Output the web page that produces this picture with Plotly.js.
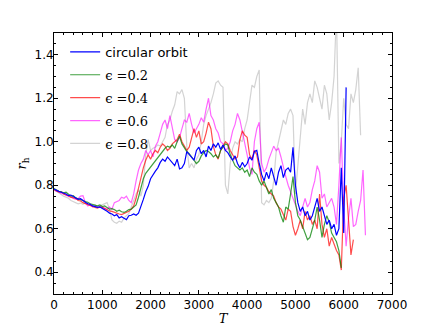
<!DOCTYPE html>
<html>
<head>
<meta charset="utf-8">
<script src="https://cdn.plot.ly/plotly-3.0.1.min.js"></script>
<style>
  html, body { margin: 0; padding: 0; background: #fff; }
  #chart { width: 436px; height: 327px; }
</style>
</head>
<body>
<div id="chart"></div>
<script>
// sample times (step 50)
var T = [0,50,100,150,200,250,300,350,400,450,500,550,600,650,700,750,800,850,900,950,
  1000,1050,1100,1150,1200,1250,1300,1350,1400,1450,1500,1550,1600,1650,1700,1750,1800,1850,1900,1950,
  2000,2050,2100,2150,2200,2250,2300,2350,2400,2450,2500,2550,2600,2650,2700,2750,2800,2850,2900,2950,
  3000,3050,3100,3150,3200,3250,3300,3350,3400,3450,3500,3550,3600,3650,3700,3750,3800,3850,3900,3950,
  4000,4050,4100,4150,4200,4250,4300,4350,4400,4450,4500,4550,4600,4650,4700,4750,4800,4850,4900,4950,
  5000,5050,5100,5150,5200,5250,5300,5350,5400,5450,5500,5550,5600,5650,5700,5750,5800,5850,5900,5950,
  6000,6050,6100,6150,6200,6250,6300,6350,6400,6450];

var circular = [0.782,0.775,0.772,0.768,0.765,0.760,0.752,0.755,0.748,0.740,0.735,0.738,0.728,0.722,0.715,0.712,0.705,0.702,0.698,0.700,
  0.694,0.688,0.680,0.672,0.668,0.660,0.665,0.650,0.655,0.648,0.642,0.660,0.662,0.668,0.662,0.672,0.700,0.735,0.770,0.795,
  0.830,0.850,0.865,0.880,0.905,0.920,0.910,0.930,0.915,0.900,0.890,0.920,0.875,0.880,0.900,0.955,0.940,0.925,0.915,0.960,
  0.975,0.945,0.960,0.930,0.980,0.960,0.990,0.975,0.995,0.965,0.985,0.960,0.950,0.930,0.915,0.935,0.900,0.880,0.905,0.885,
  0.900,0.930,0.915,0.955,0.960,0.900,0.850,0.820,0.860,0.830,0.880,0.840,0.800,0.860,0.890,0.835,0.870,0.880,0.860,0.975,
  0.800,0.720,0.680,0.700,0.660,0.680,0.640,0.660,0.700,0.740,0.680,0.700,0.660,0.620,0.640,0.600,0.620,0.570,0.600,0.880,
  0.580,1.250];

var eps02 = [0.785,0.778,0.772,0.770,0.765,0.768,0.760,0.750,0.752,0.742,0.738,0.735,0.730,0.725,0.722,0.715,0.712,0.708,0.705,0.710,
  0.702,0.705,0.698,0.690,0.692,0.688,0.680,0.685,0.678,0.675,0.680,0.688,0.690,0.700,0.710,0.745,0.790,0.830,0.855,0.870,
  0.880,0.895,0.910,0.925,0.945,0.960,0.970,0.980,0.975,0.985,0.970,1.000,1.025,0.990,0.970,0.955,0.945,0.930,0.920,0.900,
  0.910,0.935,0.950,0.960,0.955,0.945,0.930,0.940,0.925,0.960,0.975,0.990,0.985,0.940,0.915,0.890,0.880,0.870,0.880,0.860,
  0.870,0.840,0.880,0.860,0.850,0.820,0.800,0.820,0.790,0.760,0.780,0.740,0.720,0.700,0.660,0.630,0.700,0.690,0.760,0.840,
  0.720,0.660,0.640,0.610,0.580,0.550,0.560,0.600,0.640,0.700,0.640,0.560,0.620,0.660,0.630,0.580,0.560,0.540,0.500,0.420];

var eps04 = [0.780,0.775,0.768,0.770,0.760,0.755,0.752,0.745,0.742,0.740,0.730,0.728,0.720,0.715,0.712,0.705,0.700,0.698,0.695,0.700,
  0.698,0.692,0.688,0.682,0.680,0.675,0.670,0.668,0.665,0.670,0.672,0.680,0.690,0.705,0.740,0.790,0.840,0.880,0.915,0.940,
  0.920,0.945,0.960,0.950,0.975,0.990,0.980,0.960,0.970,0.990,1.000,1.010,1.035,1.000,0.980,0.960,0.975,1.020,1.060,1.020,
  1.050,0.990,1.000,1.040,1.090,1.060,0.980,0.940,0.920,0.960,0.980,1.000,0.990,0.960,0.940,0.920,0.930,1.010,1.050,1.030,
  1.020,0.940,0.920,0.960,0.940,0.870,0.820,0.800,0.790,0.770,0.760,0.750,0.720,0.700,0.690,0.660,0.640,0.690,0.680,0.610,
  0.570,0.600,0.640,0.600,0.680,0.640,0.660,0.620,0.640,0.600,0.760,0.620,0.560,0.600,0.520,0.560,0.530,0.500,0.480,0.410,
  0.740,0.800,0.640,0.480,0.550];

var eps06 = [0.780,0.772,0.770,0.762,0.760,0.752,0.748,0.745,0.740,0.735,0.738,0.750,0.752,0.720,0.705,0.712,0.700,0.705,0.698,0.702,
  0.700,0.695,0.690,0.700,0.690,0.720,0.725,0.730,0.745,0.740,0.750,0.730,0.720,0.760,0.820,0.870,0.900,0.920,0.960,0.940,
  0.960,0.930,0.980,1.000,1.040,1.080,1.100,1.060,1.120,1.060,1.010,1.000,1.020,1.060,1.100,1.090,1.130,1.080,1.040,1.060,
  1.080,1.110,1.090,1.150,1.200,1.120,1.100,1.060,1.040,1.000,0.990,0.960,0.970,1.000,1.050,1.080,1.130,1.100,1.050,1.000,
  0.940,0.880,0.850,1.000,1.060,1.090,0.900,0.860,0.880,0.920,0.950,0.980,0.960,0.970,0.930,0.880,0.840,0.800,0.770,0.740,
  0.710,0.680,0.660,0.700,0.740,0.700,0.720,0.780,0.820,0.890,0.860,0.740,0.760,0.700,0.720,0.740,0.700,0.620,0.800,1.020,
  0.700,0.520,0.650,0.740,0.610,0.620,0.680,0.730,0.870,0.570];

var eps08 = [0.780,0.772,0.765,0.760,0.750,0.745,0.740,0.730,0.725,0.720,0.715,0.718,0.712,0.720,0.715,0.708,0.705,0.710,0.700,0.705,
  0.710,0.715,0.720,0.690,0.640,0.630,0.625,0.635,0.630,0.650,0.660,0.670,0.700,0.730,0.760,0.780,0.750,0.800,0.940,1.010,
  0.960,0.970,0.975,0.985,0.980,1.000,1.020,1.080,1.100,1.140,1.170,1.230,1.220,1.240,1.200,0.980,0.880,0.900,0.880,0.920,
  0.940,1.000,1.080,1.120,1.150,1.180,1.220,1.270,1.280,1.260,1.250,0.800,0.760,0.900,0.970,1.000,0.990,1.010,1.000,1.060,
  1.100,1.180,1.260,1.250,1.300,1.330,0.720,0.710,0.730,0.720,0.740,0.820,0.950,1.000,1.050,1.100,1.080,1.130,1.150,1.120,
  0.760,0.900,1.000,1.150,1.080,1.180,1.220,1.180,1.280,1.250,1.200,1.150,1.260,1.220,1.100,1.180,1.300,1.600,0.900,1.000,
  1.200,1.080,1.060,1.220,1.180,1.240,1.340,1.030];

var names = ['circular orbit', 'ϵ =0.2', 'ϵ =0.4', 'ϵ =0.6', 'ϵ =0.8'];
var series = [circular, eps02, eps04, eps06, eps08];
var colors = ['#0000ff', '#008000', '#ff0000', '#ff00ff', '#c0c0c0'];
var alphas = [1, 0.75, 0.7, 0.6, 0.7];

var serif = '"DejaVu Serif", serif';
function label(i) {
  if (i === 0) return names[0];
  return '<span style="font-family:' + "'DejaVu Serif'" + '">' + names[i] + '</span>';
}

// draw grey first so that blue ends up on top
var data = [];
for (var i = series.length - 1; i >= 0; i--) {
  data.push({
    x: T.slice(0, series[i].length),
    y: series[i],
    type: 'scatter',
    mode: 'lines',
    name: label(i),
    legendgroup: 'g' + i,
    legendrank: i + 1,
    opacity: alphas[i],
    line: {color: colors[i], width: 1.2}
  });
}

var axisStyle = {
  showgrid: false,
  zeroline: false,
  showline: true,
  linecolor: '#000',
  linewidth: 1,
  mirror: 'allticks',
  ticks: 'inside',
  ticklen: 4,
  tickcolor: '#000',
  tickfont: {family: '"DejaVu Sans", sans-serif', size: 12, color: '#000'}
};

var layout = {
  width: 436,
  height: 327,
  margin: {l: 54, r: 44, t: 33, b: 33},
  paper_bgcolor: '#fff',
  plot_bgcolor: '#fff',
  showlegend: true,
  legend: {
    x: 0.033, y: 0.985, xanchor: 'left', yanchor: 'top',
    bgcolor: 'rgba(0,0,0,0)',
    font: {family: '"DejaVu Sans", sans-serif', size: 13, color: '#000'},
    tracegroupgap: 3
  },
  xaxis: Object.assign({}, axisStyle, {
    range: [0, 7000],
    dtick: 1000,
    minor: {dtick: 200, ticks: 'inside', ticklen: 2, tickcolor: '#000'},
    title: {text: '<i>T</i>', font: {family: serif, size: 13, color: '#000'}, standoff: 2}
  }),
  yaxis: Object.assign({}, axisStyle, {
    range: [0.3, 1.5],
    tick0: 0.4,
    dtick: 0.2,
    tickformat: '.1f',
    ticklabelstandoff: -3,
    minor: {dtick: 0.05, ticks: 'inside', ticklen: 2, tickcolor: '#000'},
    title: {text: '<i>r</i><sub>h</sub>', font: {family: serif, size: 13, color: '#000'}, standoff: 4}
  })
};

Plotly.newPlot('chart', data, layout, {staticPlot: true});
</script>
</body>
</html>
